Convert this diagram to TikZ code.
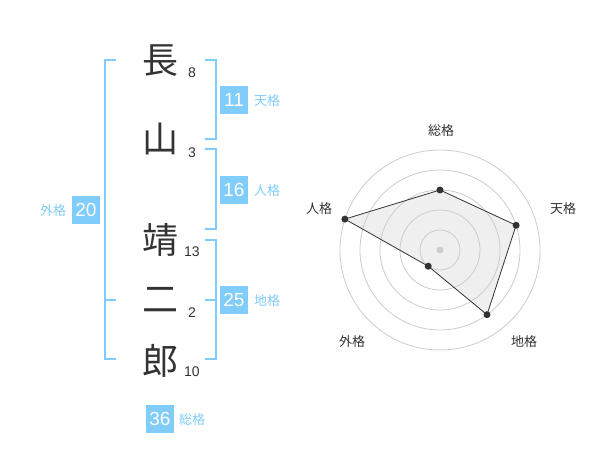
\documentclass[tikz,border=0pt]{standalone}
\usepackage{fontspec}
\setmainfont{Liberation Sans}
\newfontfamily\cjk{Noto Sans CJK JP}
\definecolor{kblue}{RGB}{128,204,250}
\definecolor{kdark}{RGB}{51,51,51}
\definecolor{kring}{RGB}{204,204,204}
\definecolor{kfill}{RGB}{239,239,239}
\begin{document}
\begin{tikzpicture}[x=1pt,y=-1pt,
  kanji/.style={font=\cjk\fontsize{36}{36}\selectfont, text=kdark, inner sep=0},
  stroke/.style={font=\fontsize{14}{14}\selectfont, text=kdark, inner sep=0},
  numbox/.style={fill=kblue, text=white, minimum width=28pt, minimum height=28pt, inner sep=0, font=\fontsize{19}{19}\selectfont},
  lab/.style={font=\cjk\fontsize{13}{13}\selectfont, text=kblue, inner sep=0},
  brk/.style={draw=kblue, line width=2pt},
  ring/.style={draw=kring, line width=0.8pt},
  rlab/.style={font=\cjk\fontsize{13}{13}\selectfont, text=kdark, inner sep=0},
  dot/.style={circle, fill=kdark, inner sep=0, minimum size=7pt},
]
\useasboundingbox (0,0) rectangle (600,470);
\fill[white] (0,0) rectangle (600,470);

% kanji
\node[kanji] (k1) at (160,61) {長};
\node[kanji] (k2) at (160,139) {山};
\node[kanji] (k3) at (160,240) {靖};
\node[kanji] (k4) at (160,300) {二};
\node[kanji] (k5) at (160,361) {郎};

% stroke counts
\node[stroke] (s1) at (192,73) {8};
\node[stroke] (s2) at (192,153) {3};
\node[stroke] (s3) at (192,252) {13};
\node[stroke] (s4) at (192,313) {2};
\node[stroke] (s5) at (192,372) {10};

% brackets
\draw[brk] (116,60) -- (105,60) -- (105,359) -- (116,359);
\draw[brk] (105,300) -- (116,300);
\draw[brk] (205,60) -- (216,60) -- (216,139) -- (205,139);
\draw[brk] (205,149) -- (216,149) -- (216,229) -- (205,229);
\draw[brk] (205,240) -- (216,240) -- (216,359) -- (205,359);
\draw[brk] (205,300) -- (216,300);

% number boxes and labels
\node[numbox] (b11) at (234,100) {11};
\node[lab, anchor=west] (l11) at (254,101) {天格};
\node[numbox] (b16) at (234,190) {16};
\node[lab, anchor=west] (l16) at (254,191) {人格};
\node[numbox] (b25) at (234,300) {25};
\node[lab, anchor=west] (l25) at (254,301) {地格};
\node[numbox] (b20) at (86,210) {20};
\node[lab] (l20) at (53,211) {外格};
\node[numbox] (b36) at (160,419) {36};
\node[lab, anchor=west] (l36) at (179,420) {総格};

% radar points
\coordinate (pS) at (440,190);
\coordinate (pT) at (516.1,225.3);
\coordinate (pC) at (487.0,314.7);
\coordinate (pG) at (428.2,266.2);
\coordinate (pJ) at (344.9,219.1);
\fill[kfill] (pS) -- (pT) -- (pC) -- (pG) -- (pJ) -- cycle;

% radar rings
\foreach \r in {20,40,60,80,100}
  \draw[ring] (440,250) circle (\r);
\node[circle, fill=kring, inner sep=0, minimum size=7pt] (rc) at (440,250) {};

\draw[kdark, line width=0.8pt] (pS) -- (pT) -- (pC) -- (pG) -- (pJ) -- cycle;
\foreach \p in {pS,pT,pC,pG,pJ}
  \node[dot] at (\p) {};

% radar labels
\node[rlab] (rS) at (441,131) {総格};
\node[rlab] (rT) at (563,209) {天格};
\node[rlab] (rC) at (524,342) {地格};
\node[rlab] (rG) at (352,342) {外格};
\node[rlab] (rJ) at (319,209) {人格};
\end{tikzpicture}
\end{document}
